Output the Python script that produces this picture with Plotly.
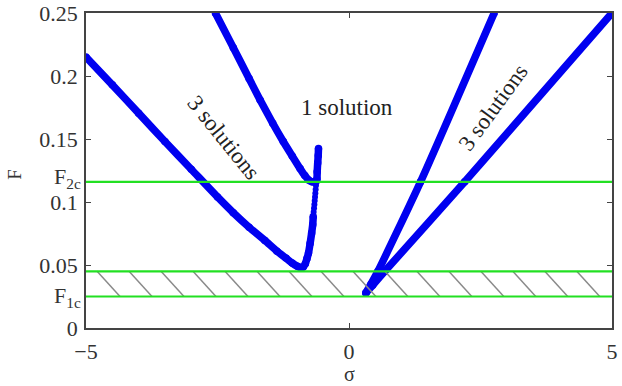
import plotly.graph_objects as go

# ---- data ----
# lower-left branch (dense part): sigma, F
lower_sigma = [-5.0, -4.5, -4.0, -3.5, -3.0, -2.5, -2.2, -1.9, -1.6, -1.37, -1.2, -1.08, -0.98, -0.92,
               -0.87, -0.83, -0.80, -0.77, -0.74, -0.71, -0.69, -0.68]
lower_F     = [0.215, 0.193, 0.1705, 0.148, 0.126, 0.104, 0.0915, 0.080, 0.0695, 0.061, 0.0555, 0.0515, 0.049, 0.048,
               0.0485, 0.051, 0.055, 0.0595, 0.067, 0.0753, 0.082, 0.0885]
# sparse dots on the rising part
sparse_sigma = [-0.672, -0.665, -0.658, -0.652, -0.646, -0.64, -0.634, -0.628]
sparse_F     = [0.092, 0.095, 0.098, 0.101, 0.104, 0.107, 0.110, 0.113]
# upper-left branch
upper_sigma = [-2.54, -2.2, -1.9, -1.69, -1.45, -1.25, -1.08, -0.93, -0.84, -0.77, -0.7, -0.63, -0.61,
               -0.605, -0.595, -0.585, -0.58]
upper_F     = [0.25, 0.2225, 0.198, 0.181, 0.1625, 0.148, 0.1365, 0.1265, 0.121, 0.1175, 0.116, 0.116, 0.118,
               0.124, 0.131, 0.137, 0.1425]
# right branches from the cusp
steep_sigma = [0.32, 0.42, 0.55, 1.36, 2.76]
steep_F     = [0.0278, 0.035, 0.045, 0.116, 0.25]
shallow_sigma = [0.32, 0.45, 0.68, 2.2, 5.0]
shallow_F     = [0.0278, 0.034, 0.045, 0.116, 0.25]

F1c = 0.025
F2c = 0.116
F_upper = 0.045

ytick_vals = [0, 0.05, 0.1, 0.15, 0.2, 0.25]
ytick_text = ["0", "0.05", "0.1", "0.15", "0.2", "0.25"]
crit_labels = ["F<sub>1c</sub>", "F<sub>2c</sub>"]
crit_values = [F1c, F2c]
xtick_vals = [-5, 0, 5]
xtick_text = ["\u22125", "0", "5"]

BLUE = "#0000f0"
GREEN = "#22e022"
FONT = "Liberation Serif"

fig = go.Figure()

def thick(x, y):
    fig.add_trace(go.Scatter(x=x, y=y, mode="lines+markers",
                             line=dict(color=BLUE, width=7.5, shape="spline", smoothing=0.6),
                             marker=dict(color=BLUE, size=7.5),
                             hoverinfo="skip", showlegend=False))

thick(lower_sigma, lower_F)
fig.add_trace(go.Scatter(x=sparse_sigma, y=sparse_F, mode="markers",
                         marker=dict(color=BLUE, size=6),
                         hoverinfo="skip", showlegend=False))
thick(upper_sigma, upper_F)
thick(steep_sigma, steep_F)
thick(shallow_sigma, shallow_F)

# hatching between F1c and F_upper
hx, hy = [], []
n_hatch = 16
start, step, offset = -4.79, 0.608, 0.437
for i in range(n_hatch):
    x0 = start + i * step
    hx += [x0, x0 + offset, None]
    hy += [F_upper, F1c, None]
fig.add_trace(go.Scatter(x=hx, y=hy, mode="lines",
                         line=dict(color="#8a8a8a", width=1.5),
                         hoverinfo="skip", showlegend=False))

# green horizontal lines
for fv in [F1c, F_upper, F2c]:
    fig.add_trace(go.Scatter(x=[-5, 5], y=[fv, fv], mode="lines",
                             line=dict(color=GREEN, width=2.2),
                             hoverinfo="skip", showlegend=False))

ann_font = dict(family=FONT, size=23, color="#222")
fig.add_annotation(x=-2.38, y=0.1515, text="3 solutions", showarrow=False,
                   textangle=51, font=ann_font)
fig.add_annotation(x=-0.04, y=0.175, text="1 solution", showarrow=False,
                   font=ann_font)
fig.add_annotation(x=2.74, y=0.175, text="3 solutions", showarrow=False,
                   textangle=-54, font=ann_font)

# critical-value tick labels
for lab, val, ys in zip(crit_labels, crit_values, [0, 4]):
    fig.add_annotation(xref="paper", yref="y", x=0, y=val, text=lab,
                       showarrow=False, xanchor="right", yanchor="middle",
                       xshift=-3, yshift=ys,
                       font=dict(family=FONT, size=22, color="#333"))

# axis titles
fig.add_annotation(xref="paper", yref="paper", x=0.5, y=-0.183, text="\u03c3",
                   showarrow=False, yanchor="bottom", borderpad=0,
                   font=dict(family=FONT, size=20, color="#333"))
fig.add_annotation(xref="paper", yref="paper", x=-0.135, y=0.49, text="F",
                   showarrow=False, textangle=-90, xanchor="center",
                   font=dict(family=FONT, size=19, color="#333"))

axis_common = dict(showgrid=False, zeroline=False, showline=True,
                   linecolor="#444", linewidth=1.5, mirror="ticks",
                   ticks="inside", ticklen=5, tickcolor="#444", automargin=False,
                   tickfont=dict(family=FONT, size=22, color="#333"))

fig.update_xaxes(range=[-5, 5], tickvals=xtick_vals, ticktext=xtick_text,
                 ticklabelstandoff=3, **axis_common)
fig.update_yaxes(range=[0, 0.25], tickvals=ytick_vals, ticktext=ytick_text,
                 ticklabelstandoff=2, **axis_common)

fig.update_layout(width=622, height=386,
                  margin=dict(l=86, r=10, t=13, b=58),
                  plot_bgcolor="white", paper_bgcolor="white")

fig.write_html("out.html")
